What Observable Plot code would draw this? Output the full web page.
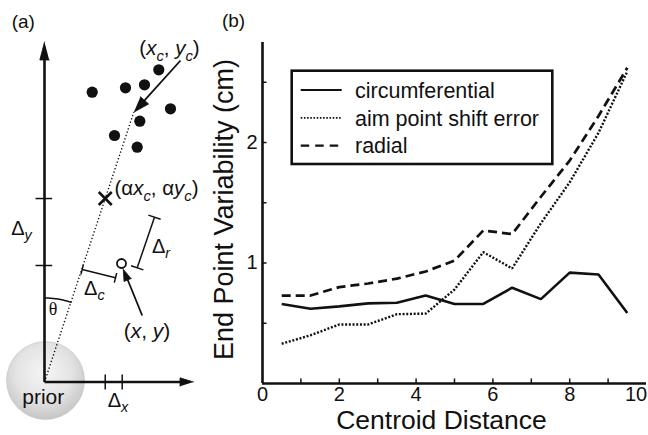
<!DOCTYPE html>
<html>
<head>
<meta charset="utf-8">
<script src="https://cdn.jsdelivr.net/npm/d3@7"></script>
<script src="https://cdn.jsdelivr.net/npm/@observablehq/plot@0.6"></script>
<style>
html,body{margin:0;padding:0;background:#fff;}
#fig{position:relative;width:648px;height:435px;overflow:hidden;font-family:"Liberation Sans",Arial,Helvetica,sans-serif;color:#111;}
#fig > svg{position:absolute;top:0;}
</style>
</head>
<body>
<div id="fig"></div>
<script>
// ---------------- panel (b) data ----------------
const centroidDistance = [0.5,1.25,2,2.75,3.5,4.25,5,5.75,6.5,7.25,8,8.75,9.5];
const circumferential  = [0.66,0.62,0.64,0.665,0.67,0.73,0.66,0.66,0.795,0.70,0.92,0.905,0.585];
const aimPointShiftError = [0.33,0.40,0.49,0.49,0.575,0.58,0.78,1.09,0.955,1.33,1.67,2.08,2.59];
const radial           = [0.73,0.73,0.80,0.83,0.87,0.93,1.02,1.27,1.24,1.55,1.85,2.22,2.62];
const seriesNames = ["circumferential","aim point shift error","radial"];
const xTickLabels = [0,2,4,6,8];
const xEdgeTickLabels = [10];
const xMinorTicks = [1,2,3,4,5,6,7,8,9];
const yTickLabels = [1,2];
const yMinorTicks = [0.5,1,1.5,2,2.5];
const xLabel = "Centroid Distance";
const yLabel = "End Point Variability (cm)";

// ---------------- panel (a) schematic data (diagram units, origin at prior) ----------------
const scatterU = [47.7,81,100,114.3,126,95.3,70,92.7];
const scatterV = [289.8,294.2,297.2,312.2,273.2,260.8,246.5,234.8];
const centroid = [89.3,269.8];
const alpha = 0.68;
const observed = [77,118.5];
const axisEnds = [149,340];
const centroidLabelFrom = [136,321.5];
const observedLabelFrom = [97.7,66.5];
const deltaR = [[110,164.8],[92.7,114.2]];
const deltaC = [[37.7,112.5],[71,104.2]];

const FONT = '"Liberation Sans", Arial, Helvetica, sans-serif';
const INK = "#111";

// ---------------- panel (b) ----------------
const seriesValues = [circumferential, aimPointShiftError, radial];
const seriesStyle = {
  "circumferential": {dash: null, width: 2.6, legendWidth: 2, legendDash: null},
  "aim point shift error": {dash: "2 1.7", width: 2.4, legendWidth: 1.7, legendDash: "1.6 1.6"},
  "radial": {dash: "9 5", width: 2.7, legendWidth: 2.2, legendDash: "8.5 6"}
};
const rows = seriesNames.flatMap((name, s) =>
  centroidDistance.map((d, i) => ({series: name, d, v: seriesValues[s][i]})));

const H = 435, mT = 42, mB = 52, W = 448, mL = 62, mR = 2;
const frameH = H - mT - mB, frameW = W - mL - mR;

const lineMarks = seriesNames.map(name => Plot.line(rows.filter(r => r.series === name), {
  x: "d", y: "v", stroke: INK,
  strokeWidth: seriesStyle[name].width,
  strokeDasharray: seriesStyle[name].dash,
  strokeLinejoin: "miter", strokeLinecap: "butt"
}));

const plotB = Plot.plot({
  width: W, height: H,
  marginLeft: mL, marginRight: mR, marginTop: mT, marginBottom: mB,
  x: {domain: [0, 10]},
  y: {domain: [0, 2.83]},
  style: {fontFamily: FONT, background: "transparent", color: INK, overflow: "visible"},
  marks: [
    Plot.tickX(xMinorTicks, {x: d => d, insetTop: frameH - 4.5, strokeWidth: 1.5, stroke: INK}),
    Plot.tickY(yMinorTicks, {y: d => d, insetRight: frameW - 4.5, strokeWidth: 1.5, stroke: INK}),
    ...lineMarks,
    Plot.ruleX([0], {strokeWidth: 2.6, stroke: INK}),
    Plot.ruleY([0], {strokeWidth: 2.6, stroke: INK}),
    Plot.axisX(xTickLabels, {tickSize: 0, tickPadding: 3, fontSize: 20, label: null, tickFormat: d => String(d)}),
    Plot.axisX(xEdgeTickLabels, {tickSize: 0, tickPadding: 3, fontSize: 20, label: null, dx: -10.5, tickFormat: d => String(d)}),
    Plot.axisY(yTickLabels, {tickSize: 0, tickPadding: 5, fontSize: 20, label: null, tickFormat: d => String(d)}),
    Plot.text([xLabel], {frameAnchor: "bottom", textAnchor: "middle", lineAnchor: "middle", dx: -13, dy: 37.5, fontSize: 26.5, fill: INK}),
    Plot.text([yLabel], {frameAnchor: "left", textAnchor: "middle", lineAnchor: "middle", rotate: -90, dx: -38.5, dy: -3.5, fontSize: 27, fill: INK}),
    Plot.text(["(b)"], {frameAnchor: "top-left", textAnchor: "middle", lineAnchor: "middle", dx: -29, dy: -22, fontSize: 19, fill: INK})
  ]
});
plotB.style.left = "200px";

// ---------------- panel (a) ----------------
const alphaPt = [alpha * centroid[0], alpha * centroid[1]];
const scatter = scatterU.map((u, i) => ({u, v: scatterV[i]}));

function arrowParts(from, tip, len, hw, id) {
  const dx = tip[0] - from[0], dy = tip[1] - from[1], L = Math.hypot(dx, dy);
  const ux = dx / L, uy = dy / L, nx = -uy, ny = ux;
  const bx = tip[0] - ux * len, by = tip[1] - uy * len;
  return {
    shaft: {x1: from[0], y1: from[1], x2: bx + ux, y2: by + uy},
    head: [
      {id, u: tip[0], v: tip[1]},
      {id, u: bx + nx * hw, v: by + ny * hw},
      {id, u: bx - nx * hw, v: by - ny * hw}
    ]
  };
}
const arrows = [
  arrowParts([0, 0], [0, axisEnds[1]], 18, 4.7, "ya"),
  arrowParts([0, 0], [axisEnds[0], 0], 13.5, 4.2, "xa"),
  arrowParts(centroidLabelFrom, centroid, 16, 5.5, "ca"),
  arrowParts(observedLabelFrom, [observed[0] + 1.7, observed[1] - 5.3], 12, 4, "oa")
];

function bracket(A, B, half) {
  const dx = B[0] - A[0], dy = B[1] - A[1], L = Math.hypot(dx, dy);
  const nx = -dy / L * half, ny = dx / L * half;
  return [
    {x1: A[0], y1: A[1], x2: B[0], y2: B[1]},
    {x1: A[0] - nx, y1: A[1] - ny, x2: A[0] + nx, y2: A[1] + ny},
    {x1: B[0] - nx, y1: B[1] - ny, x2: B[0] + nx, y2: B[1] + ny}
  ];
}
const bracketSegs = [...bracket(deltaR[0], deltaR[1], 6.5), ...bracket(deltaC[0], deltaC[1], 5)];

const xHalf = 6.5;
const crossSegs = [
  {x1: alphaPt[0] - xHalf, y1: alphaPt[1] - xHalf, x2: alphaPt[0] + xHalf, y2: alphaPt[1] + xHalf},
  {x1: alphaPt[0] - xHalf, y1: alphaPt[1] + xHalf, x2: alphaPt[0] + xHalf, y2: alphaPt[1] - xHalf}
];

const tickSegs = [
  {x1: -9, y1: alphaPt[1], x2: 7.7, y2: alphaPt[1]},
  {x1: -9, y1: observed[1] - 2, x2: 7.7, y2: observed[1] - 2},
  {x1: alphaPt[0], y1: 7.5, x2: alphaPt[0], y2: -7.5},
  {x1: observed[0] + 0.7, y1: 7.5, x2: observed[0] + 0.7, y2: -7.5}
];

const thetaAngle = Math.atan2(centroid[0], centroid[1]);
const arcR = 84;
const arc = d3.range(0, 21).map(k => {
  const a = thetaAngle * k / 20;
  return {u: arcR * Math.sin(a), v: arcR * Math.cos(a)};
});

const diagramLabels = [
  {u: -20.7, v: 360.2, size: 19, parts: [{t: "(a)"}]},
  {u: 125.5, v: 333.5, size: 20.5, parts: [{t: "("}, {t: "x", i: 1}, {t: "c", i: 1, sub: 1}, {t: ", "}, {t: "y", i: 1}, {t: "c", i: 1, sub: 1}, {t: ")"}]},
  {u: 112.5, v: 193.5, size: 20.5, parts: [{t: "(α"}, {t: "x", i: 1}, {t: "c", i: 1, sub: 1}, {t: ", α"}, {t: "y", i: 1}, {t: "c", i: 1, sub: 1}, {t: ")"}]},
  {u: 103, v: 51.5, size: 21, parts: [{t: "("}, {t: "x", i: 1}, {t: ", "}, {t: "y", i: 1}, {t: ")"}]},
  {u: -0.7, v: -15.3, size: 21, parts: [{t: "prior"}]},
  {u: -22.5, v: 153.7, parts: [{t: "Δ"}, {t: "y", i: 1, sub: 1}]},
  {u: 74, v: -18.5, parts: [{t: "Δ"}, {t: "x", i: 1, sub: 1}]},
  {u: 117, v: 135.5, parts: [{t: "Δ"}, {t: "r", i: 1, sub: 1}]},
  {u: 50.3, v: 93.7, parts: [{t: "Δ"}, {t: "c", i: 1, sub: 1}]},
  {u: 9, v: 72.6, size: 18, serif: 1, parts: [{t: "θ"}]}
];

function defsMark() {
  return () => {
    const defs = d3.create("svg:defs");
    const g = defs.append("radialGradient").attr("id", "priorGrad")
      .attr("cx", "48%").attr("cy", "40%").attr("r", "60%");
    g.append("stop").attr("offset", "0%").attr("stop-color", "#f6f6f6");
    g.append("stop").attr("offset", "60%").attr("stop-color", "#e3e3e3");
    g.append("stop").attr("offset", "100%").attr("stop-color", "#c6c6c6");
    return defs.node();
  };
}

function richTextMark(specs, fs) {
  return (index, scales) => {
    const g = d3.create("svg:g").attr("fill", INK).attr("font-family", FONT);
    for (const s of specs) {
      const size = s.size || fs;
      const t = g.append("text")
        .attr("x", scales.x(s.u))
        .attr("y", scales.y(s.v) + 0.36 * size)
        .attr("text-anchor", "middle")
        .attr("font-size", size)
        .style("white-space", "pre");
      if (s.serif) t.attr("font-family", '"Liberation Serif", "DejaVu Serif", serif');
      let shifted = 0;
      for (const p of s.parts) {
        const ts = t.append("tspan").text(p.t);
        if (p.i) ts.attr("font-style", "italic");
        const target = p.sub ? 0.26 * size : 0;
        if (target !== shifted) { ts.attr("dy", target - shifted); shifted = target; }
        if (p.sub) ts.attr("font-size", size * 0.72);
      }
    }
    return g.node();
  };
}

const plotA = Plot.plot({
  width: 200, height: H,
  margin: 0,
  x: {domain: [-44, 156], range: [0, 200], axis: null},
  y: {domain: [-53.5, 381.5], range: [H, 0], axis: null},
  style: {fontFamily: FONT, background: "transparent", color: INK, overflow: "visible"},
  marks: [
    defsMark(),
    Plot.dot([{u: 1, v: 1.5}], {x: "u", y: "v", r: 39, fill: "url(#priorGrad)", stroke: "#c2c2c2", strokeWidth: 0.6}),
    Plot.link([{x1: 0, y1: 0, x2: centroid[0], y2: centroid[1]}], {x1: "x1", y1: "y1", x2: "x2", y2: "y2", stroke: INK, strokeWidth: 1.4, strokeDasharray: "1.3 2.2"}),
    Plot.line(arc, {x: "u", y: "v", stroke: INK, strokeWidth: 1.5}),
    Plot.link(arrows.map(a => a.shaft).slice(0, 2), {x1: "x1", y1: "y1", x2: "x2", y2: "y2", stroke: INK, strokeWidth: 2.6, strokeLinecap: "butt"}),
    Plot.link(arrows.map(a => a.shaft).slice(2), {x1: "x1", y1: "y1", x2: "x2", y2: "y2", stroke: INK, strokeWidth: 1.8, strokeLinecap: "butt"}),
    Plot.line(arrows.flatMap(a => a.head), {x: "u", y: "v", z: "id", fill: INK, stroke: INK, strokeWidth: 0.8, strokeLinejoin: "miter"}),
    Plot.link(tickSegs, {x1: "x1", y1: "y1", x2: "x2", y2: "y2", stroke: INK, strokeWidth: 1.5}),
    Plot.link(bracketSegs, {x1: "x1", y1: "y1", x2: "x2", y2: "y2", stroke: INK, strokeWidth: 1.5, strokeLinecap: "butt"}),
    Plot.link(crossSegs, {x1: "x1", y1: "y1", x2: "x2", y2: "y2", stroke: INK, strokeWidth: 2.6, strokeLinecap: "butt"}),
    Plot.dot(scatter, {x: "u", y: "v", r: 5.6, fill: INK, stroke: "none"}),
    Plot.dot([{u: observed[0], v: observed[1]}], {x: "u", y: "v", r: 4.5, fill: "#fff", stroke: INK, strokeWidth: 1.8}),
    richTextMark(diagramLabels, 20)
  ]
});
plotA.style.left = "0px";

// ---------------- legend (overlay) ----------------
const legend = d3.create("svg").attr("width", 648).attr("height", 435)
  .style("position", "absolute").style("left", "0px").style("top", "0px")
  .attr("font-family", FONT);
legend.append("rect").attr("x", 291.7).attr("y", 70.7).attr("width", 260.6).attr("height", 93.3)
  .attr("fill", "#fff").attr("stroke", INK).attr("stroke-width", 2.6);
seriesNames.forEach((name, i) => {
  const y = 90 + i * 27.8;
  const st = seriesStyle[name];
  legend.append("line").attr("x1", 300.7).attr("x2", 341.7).attr("y1", y).attr("y2", y)
    .attr("stroke", INK).attr("stroke-width", st.legendWidth)
    .attr("stroke-dasharray", st.legendDash);
  legend.append("text").attr("x", 355).attr("y", y + 7.7).attr("font-size", 21.5).attr("fill", INK).text(name);
});

const fig = document.getElementById("fig");
fig.append(plotA, plotB, legend.node());
</script>
</body>
</html>
